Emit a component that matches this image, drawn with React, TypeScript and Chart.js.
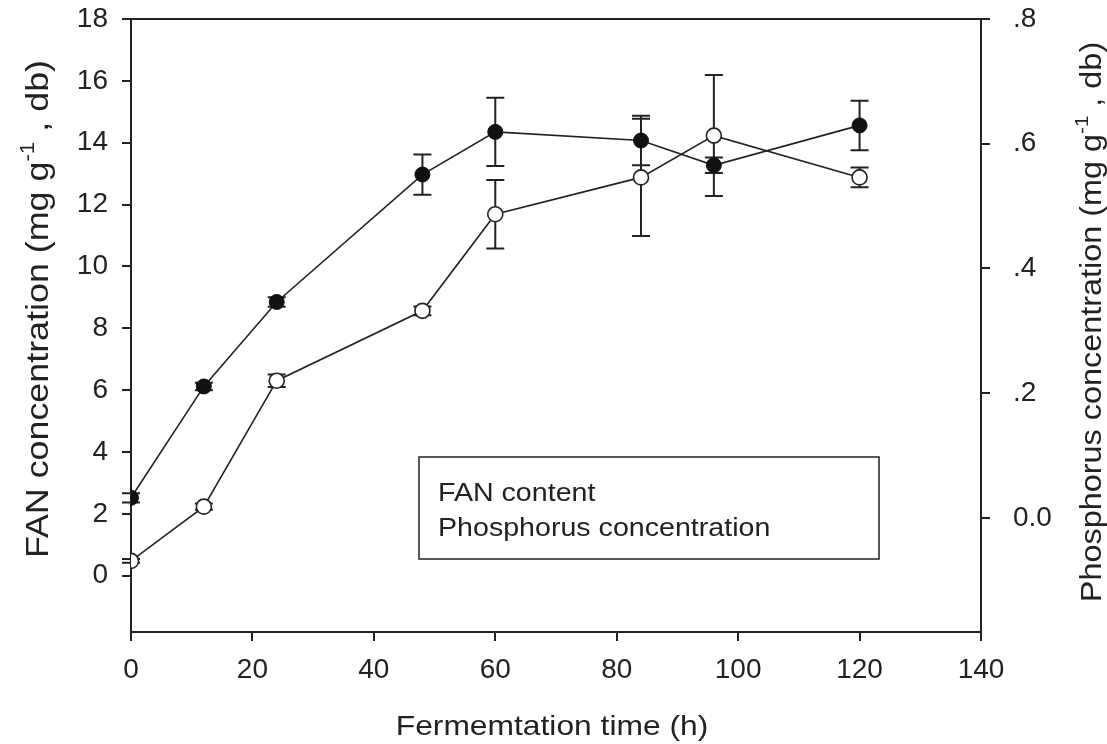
import React, { useEffect, useRef } from 'react';
import { Chart, registerables } from 'chart.js';

Chart.register(...registerables);

const times = [0, 12, 24, 48, 60, 84, 96, 120];
const fanValues = [2.52, 6.12, 8.85, 12.97, 14.35, 14.07, 13.27, 14.56];
const fanErrors = [0.15, 0.12, 0.15, 0.65, 1.1, 0.8, 0.25, 0.8];
const phosValues = [-0.069, 0.018, 0.22, 0.332, 0.487, 0.546, 0.613, 0.546];
const phosErrors = [0.003, 0.005, 0.01, 0.007, 0.055, 0.094, 0.097, 0.016];

const xTicks = [0, 20, 40, 60, 80, 100, 120, 140];
const leftTicks = [0, 2, 4, 6, 8, 10, 12, 14, 16, 18];
const rightTicks = [0, 0.2, 0.4, 0.6, 0.8];
const rightTickLabels = ['0.0', '.2', '.4', '.6', '.8'];

const xTitle = 'Fermemtation time (h)';
const leftTitle = [{ t: 'FAN concentration (mg g' }, { t: '-1', sup: true }, { t: ' , db)' }];
const rightTitle = [{ t: 'Phosphorus concentration (mg g' }, { t: '-1', sup: true }, { t: ' , db)' }];
const legendLabels = ['FAN content', 'Phosphorus concentration'];

const FONT = "'Liberation Sans', Arial, Helvetica, sans-serif";
const INK = '#222';

function drawRich(ctx: CanvasRenderingContext2D, parts: { t: string; sup?: boolean }[], size: number, stretch: number) {
  const supSize = Math.round(size * 0.62);
  ctx.scale(stretch, 1);
  let total = 0;
  const widths = parts.map((p) => {
    ctx.font = `${p.sup ? supSize : size}px ${FONT}`;
    const w = ctx.measureText(p.t).width;
    total += w;
    return w;
  });
  let x = -total / 2;
  parts.forEach((p, i) => {
    ctx.font = `${p.sup ? supSize : size}px ${FONT}`;
    ctx.fillText(p.t, x, p.sup ? -size * 0.45 : 0);
    x += widths[i];
  });
}

const decorPlugin = {
  id: 'decor',
  beforeDatasetsDraw(chart: any) {
    const ctx = chart.ctx as CanvasRenderingContext2D;
    const xs = chart.scales.x;
    const ys = [chart.scales.y, chart.scales.y2];
    const vals = [fanValues, phosValues];
    const errs = [fanErrors, phosErrors];
    ctx.save();
    ctx.strokeStyle = INK;
    ctx.lineWidth = 2;
    for (let s = 0; s < 2; s++) {
      times.forEach((t, i) => {
        const px = xs.getPixelForValue(t);
        const top = ys[s].getPixelForValue(vals[s][i] + errs[s][i]);
        const bot = ys[s].getPixelForValue(vals[s][i] - errs[s][i]);
        ctx.beginPath();
        ctx.moveTo(px, top);
        ctx.lineTo(px, bot);
        ctx.moveTo(px - 9, top);
        ctx.lineTo(px + 9, top);
        ctx.moveTo(px - 9, bot);
        ctx.lineTo(px + 9, bot);
        ctx.stroke();
      });
    }
    ctx.restore();
  },
  afterDraw(chart: any) {
    const ctx = chart.ctx as CanvasRenderingContext2D;
    const a = chart.chartArea;
    ctx.save();
    ctx.strokeStyle = INK;
    ctx.lineWidth = 2;
    ctx.beginPath();
    ctx.moveTo(a.left - 9, a.top);
    ctx.lineTo(a.right + 9, a.top);
    ctx.stroke();

    // legend box
    const lx = a.left + 288;
    const ly = a.top + 438;
    ctx.lineWidth = 1.5;
    ctx.strokeRect(lx, ly, 460, 102);
    ctx.fillStyle = INK;
    ctx.textAlign = 'left';
    ctx.textBaseline = 'alphabetic';
    ctx.font = `26px ${FONT}`;
    ctx.save();
    ctx.translate(lx + 19, ly + 44);
    ctx.scale(1.1, 1);
    ctx.fillText(legendLabels[0], 0, 0);
    ctx.restore();
    ctx.save();
    ctx.translate(lx + 19, ly + 79);
    ctx.scale(1.1, 1);
    ctx.fillText(legendLabels[1], 0, 0);
    ctx.restore();

    // axis titles
    ctx.save();
    ctx.translate(552, 735);
    drawRich(ctx, [{ t: xTitle }], 28, 1.135);
    ctx.restore();

    ctx.save();
    ctx.translate(48, 309);
    ctx.rotate(-Math.PI / 2);
    drawRich(ctx, leftTitle, 32, 1.12);
    ctx.restore();

    ctx.save();
    ctx.translate(1101, 322);
    ctx.rotate(-Math.PI / 2);
    drawRich(ctx, rightTitle, 30, 1.08);
    ctx.restore();

    ctx.restore();
  },
};

const noPadY = (w: number) => (s: any) => {
  s.width = w;
  s.paddingTop = 0;
  s.paddingBottom = 0;
};

export default function App() {
  const ref = useRef<HTMLCanvasElement | null>(null);
  useEffect(() => {
    if (!ref.current) return;
    const tickFont = { family: FONT, size: 28 };
    const chart = new Chart(ref.current, {
      type: 'line',
      data: {
        datasets: [
          {
            label: legendLabels[0],
            data: times.map((t, i) => ({ x: t, y: fanValues[i] })),
            yAxisID: 'y',
            borderColor: INK,
            borderWidth: 1.6,
            pointRadius: 7.5,
            pointBackgroundColor: '#111',
            pointBorderColor: '#111',
            pointBorderWidth: 1,
            tension: 0,
          },
          {
            label: legendLabels[1],
            data: times.map((t, i) => ({ x: t, y: phosValues[i] })),
            yAxisID: 'y2',
            borderColor: INK,
            borderWidth: 1.6,
            pointRadius: 7.5,
            pointBackgroundColor: '#fff',
            pointBorderColor: INK,
            pointBorderWidth: 1.6,
            tension: 0,
          },
        ],
      },
      options: {
        animation: false,
        responsive: false,
        maintainAspectRatio: false,
        layout: { padding: { top: 19, left: 0, right: 0, bottom: 0 } },
        plugins: { legend: { display: false }, tooltip: { enabled: false } },
        scales: {
          x: {
            type: 'linear',
            min: 0,
            max: 140,
            afterBuildTicks: (s: any) => { s.ticks = xTicks.map((v) => ({ value: v })); },
            afterFit: (s: any) => { s.height = 112; s.paddingLeft = 0; s.paddingRight = 0; },
            grid: { drawOnChartArea: false, tickLength: 9, color: INK, lineWidth: 2 },
            border: { color: INK, width: 2 },
            ticks: { font: tickFont, color: INK, padding: 12, maxRotation: 0 },
          },
          y: {
            type: 'linear',
            position: 'left',
            min: -1.82,
            max: 18,
            afterBuildTicks: (s: any) => { s.ticks = leftTicks.map((v) => ({ value: v })); },
            afterFit: noPadY(131),
            grid: { drawOnChartArea: false, tickLength: 9, color: INK, lineWidth: 2 },
            border: { color: INK, width: 2 },
            ticks: { font: tickFont, color: INK, padding: 14 },
          },
          y2: {
            type: 'linear',
            position: 'right',
            min: -0.183,
            max: 0.8,
            afterBuildTicks: (s: any) => { s.ticks = rightTicks.map((v) => ({ value: v })); },
            afterFit: noPadY(126),
            grid: { drawOnChartArea: false, tickLength: 9, color: INK, lineWidth: 2 },
            border: { color: INK, width: 2 },
            ticks: {
              font: tickFont,
              color: INK,
              padding: 23,
              callback: (v: any) => {
                const i = rightTicks.findIndex((r) => Math.abs(r - Number(v)) < 1e-6);
                return i >= 0 ? rightTickLabels[i] : '';
              },
            },
          },
        },
      },
      plugins: [decorPlugin],
    });
    return () => chart.destroy();
  }, []);
  return (
    <div style={{ position: 'absolute', left: 0, top: 0, width: 1107, height: 744, background: '#fff' }}>
      <canvas ref={ref} width={1107} height={744} style={{ display: 'block' }} />
    </div>
  );
}
